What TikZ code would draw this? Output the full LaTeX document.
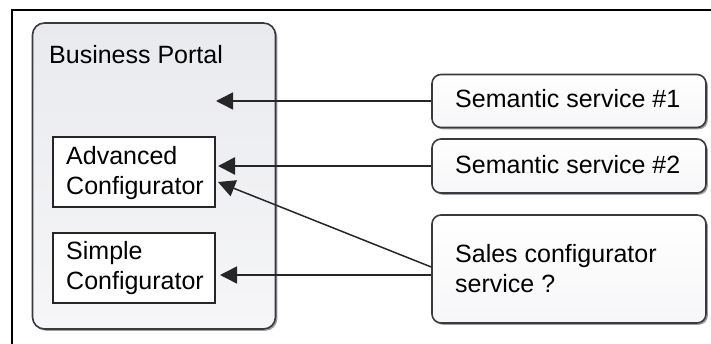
\documentclass[tikz,border=0pt]{standalone}
\usepackage{fontspec}
\setmainfont{Liberation Sans}
\usetikzlibrary{arrows.meta,shadows}
\definecolor{edge}{HTML}{3A3A3E}
\definecolor{filltop}{HTML}{E9EAEE}
\definecolor{fillbot}{HTML}{F6F6F8}
\tikzset{
  panel/.style={draw=edge, line width=1.6pt, rounded corners=12pt,
    top color=filltop, bottom color=fillbot,
    drop shadow={shadow xshift=1.8pt, shadow yshift=-1.8pt, opacity=0.55, fill=black!70},
    inner sep=0pt},
  service/.style={panel, rounded corners=9pt, top color=white, bottom color=fillbot},
  cfgbox/.style={draw=black!85, line width=1.3pt, fill=white, inner sep=0pt},
  lbl/.style={anchor=base west, inner sep=0pt, align=left,
    font=\fontsize{25}{30}\selectfont},
  arr/.style={draw=black!85, line width=1.5pt,
    -{Triangle[length=17pt,width=17pt]}},
}
\begin{document}
\begin{tikzpicture}[x=1pt,y=-1pt]
  \useasboundingbox (0,0) rectangle (711,344);
  % outer frame (only the top and left edges fall inside the picture)
  \draw[line width=2pt] (12,344) -- (12,10) -- (711,10);

  % business portal container
  \node[panel, minimum width=243pt, minimum height=306pt] (portal) at (154,176) {};
  \node[lbl] (portaltitle) at (49,64) {Business Portal};

  % configurator boxes (labels are anchored at the baseline of their last line)
  \node[cfgbox, minimum width=162pt, minimum height=70pt] (adv) at (134,172) {};
  \node[lbl] (advtext) at (66,195) {Advanced\\Configurator};
  \node[cfgbox, minimum width=162pt, minimum height=70pt] (simple) at (134,268) {};
  \node[lbl] (simpletext) at (66,290) {Simple\\Configurator};

  % services
  \node[service, minimum width=274pt, minimum height=53pt] (sem1) at (569,101) {};
  \node[lbl] (sem1text) at (455,108) {Semantic service \#1};
  \node[service, minimum width=274pt, minimum height=54pt] (sem2) at (569,166) {};
  \node[lbl] (sem2text) at (455,174) {Semantic service \#2};
  \node[service, minimum width=274pt, minimum height=108pt] (sales) at (569,269) {};
  \node[lbl] (salestext) at (455,292) {Sales configurator\\service ?};

  % arrow end points
  \coordinate (t1) at (216,103);
  \coordinate (t2) at (218,165);
  \coordinate (t3) at (218,182);
  \coordinate (t4) at (220,275);
  \coordinate (s3) at ([yshift=2pt]sales.west);
  \coordinate (s4) at ([yshift=-6pt]sales.west);

  \draw[arr] (sem1.west) -- (sem1.west -| t1);
  \draw[arr, line width=2.6pt] (sem2.west) -- (sem2.west -| t2);
  \draw[arr] (s3) -- (t3);
  \draw[arr] (s4) -- (s4 -| t4);
\end{tikzpicture}
\end{document}
